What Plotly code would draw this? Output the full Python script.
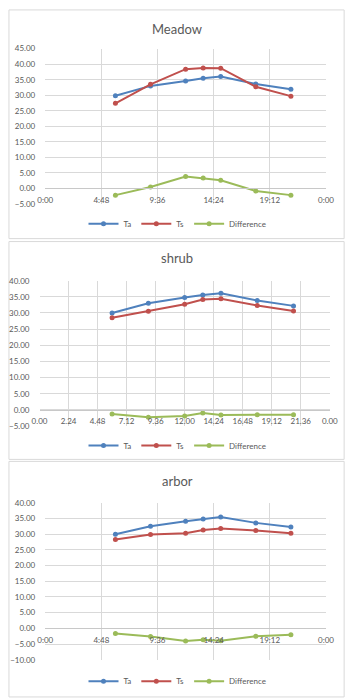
import plotly.graph_objects as go

# ---------------- data ----------------
hours = [6, 9, 12, 13.5, 15, 18, 21]

meadow_ta = [29.8, 33.0, 34.6, 35.5, 36.0, 33.6, 31.9]
meadow_ts = [27.4, 33.5, 38.4, 38.8, 38.7, 32.7, 29.7]
meadow_diff = [-2.2, 0.4, 3.8, 3.3, 2.6, -0.9, -2.2]

shrub_ta = [30.0, 33.0, 34.8, 35.6, 36.1, 33.9, 32.2]
shrub_ts = [28.5, 30.5, 32.7, 34.2, 34.4, 32.3, 30.6]
shrub_diff = [-1.3, -2.3, -1.9, -1.0, -1.6, -1.5, -1.5]

arbor_ta = [30.0, 32.5, 34.1, 34.8, 35.5, 33.6, 32.3]
arbor_ts = [28.3, 29.9, 30.3, 31.3, 31.8, 31.2, 30.3]
arbor_diff = [-1.6, -2.6, -4.0, -3.6, -3.9, -2.5, -2.0]

ticks_wide = [0, 4.8, 9.6, 14.4, 19.2, 24]
ticklabels_wide = ["0:00", "4:48", "9:36", "14:24", "19:12", "0:00"]
ticks_fine = [0, 2.4, 4.8, 7.2, 9.6, 12, 14.4, 16.8, 19.2, 21.6, 24]
ticklabels_fine = ["0.00", "2.24", "4.48", "7.12", "9.36", "12.00", "14.24",
                   "16.48", "19.12", "21.36", "0.00"]

series_names_meadow = ["Ta", "Ts", "Difference"]
series_names_shrub = ["Ta", "Ts", "Difference"]
series_names_arbor = ["Ta", "Ts", "Difference"]

# ---------------- layout helpers ----------------
W, H = 355, 699
COLORS = ["#4F81BD", "#C0504D", "#9BBB59"]
FONT = "Lato, 'Liberation Sans', sans-serif"
TXT = "#595959"
GRID = "#d9d9d9"


def px_x(p):
    return p / W


def px_y(p):
    return 1 - p / H


panels = [
    dict(title="Meadow", ta=meadow_ta, ts=meadow_ts, diff=meadow_diff,
         names=series_names_meadow,
         xpx=(39, 333), ypx=(44.3, 201.7), yr=(-5, 45),
         ticks=ticks_wide, labels=ticklabels_wide,
         title_y=24, legend_y=222, box=(1, 352, 5, 237)),
    dict(title="shrub", ta=shrub_ta, ts=shrub_ts, diff=shrub_diff,
         names=series_names_shrub,
         xpx=(33, 337), ypx=(279.7, 427.1), yr=(-5, 40),
         ticks=ticks_fine, labels=ticklabels_fine,
         title_y=257, legend_y=447, box=(1, 352, 240, 461)),
    dict(title="arbor", ta=arbor_ta, ts=arbor_ts, diff=arbor_diff,
         names=series_names_arbor,
         xpx=(39, 333), ypx=(505, 664.3), yr=(-10, 40),
         ticks=ticks_wide, labels=ticklabels_wide,
         title_y=483, legend_y=686, box=(1, 352, 463, 702)),
]

fig = go.Figure()
layout = dict(
    width=W, height=H, margin=dict(l=0, r=0, t=0, b=0),
    paper_bgcolor="white", plot_bgcolor="white",
    font=dict(family=FONT, color=TXT, size=8),
    shapes=[], annotations=[],
)

for i, p in enumerate(panels):
    n = "" if i == 0 else str(i + 1)
    xa, ya = "x" + n, "y" + n
    leg = "legend" + n
    for vals, name, col in zip([p["ta"], p["ts"], p["diff"]], p["names"], COLORS):
        fig.add_trace(go.Scatter(
            x=hours, y=vals, name=name, mode="lines+markers",
            line=dict(color=col, width=2), marker=dict(color=col, size=5),
            xaxis=xa, yaxis=ya, legend=leg, showlegend=True,
        ))
    y0p, y1p = px_y(p["ypx"][1]), px_y(p["ypx"][0])
    ymin, ymax = p["yr"]
    zero_pos = y0p + (0 - ymin) / (ymax - ymin) * (y1p - y0p)
    layout["xaxis" + n] = dict(
        domain=[px_x(p["xpx"][0]), px_x(p["xpx"][1])],
        range=[0, 24], tickvals=p["ticks"], ticktext=p["labels"],
        anchor="free", position=zero_pos,
        showline=True, linecolor="#c8c8c8", linewidth=1,
        showgrid=True, gridcolor=GRID, gridwidth=1, zeroline=False,
        ticks="", ticklabelstandoff=4,
        tickfont=dict(size=8, color=TXT), fixedrange=True,
    )
    layout["yaxis" + n] = dict(
        domain=[y0p, y1p], range=[ymin, ymax], dtick=5, tick0=0,
        tickformat=".2f", anchor=xa, showline=False,
        showgrid=True, gridcolor=GRID, gridwidth=1, zeroline=False,
        ticks="", ticklabelstandoff=9,
        tickfont=dict(size=8, color=TXT), fixedrange=True,
    )
    layout[leg] = dict(
        orientation="h", x=0.5, xanchor="center",
        y=px_y(p["legend_y"]), yanchor="middle",
        font=dict(size=8, color=TXT), bgcolor="rgba(0,0,0,0)",
        itemwidth=30, tracegroupgap=0,
    )
    bx0, bx1, by0, by1 = p["box"]
    layout["shapes"].append(dict(
        type="rect", xref="paper", yref="paper",
        x0=px_x(bx0), x1=px_x(bx1), y0=px_y(by1), y1=px_y(by0),
        line=dict(color="#d9d9d9", width=1), fillcolor="rgba(0,0,0,0)",
        layer="below",
    ))
    layout["annotations"].append(dict(
        text=p["title"], xref="paper", yref="paper",
        x=px_x(177), y=px_y(p["title_y"]), xanchor="center", yanchor="middle",
        showarrow=False, font=dict(size=13, color=TXT, family=FONT),
    ))

fig.update_layout(**layout)
fig.write_html("out.html")
